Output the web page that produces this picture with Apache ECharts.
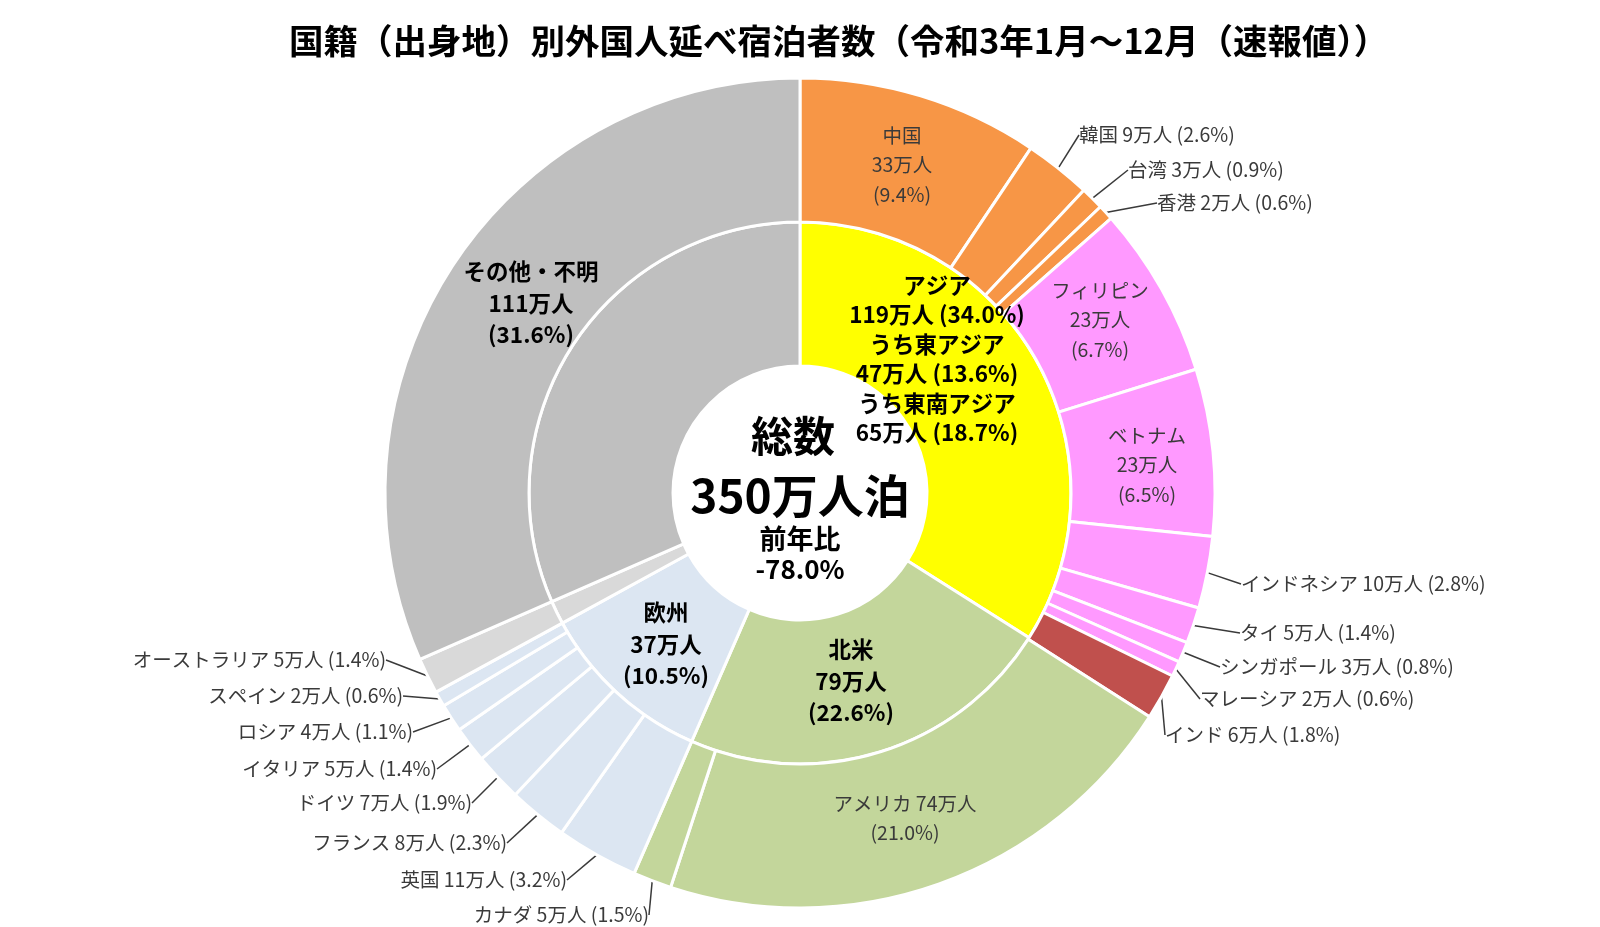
<!DOCTYPE html>
<html><head><meta charset="utf-8">
<script src="https://cdn.jsdelivr.net/npm/echarts@6/dist/echarts.min.js"></script>
<style>html,body{margin:0;padding:0;background:#fff}#c{width:1600px;height:927px}</style>
</head><body><div id="c"></div>
<script>
const FONT = '"Noto Sans CJK JP", "Noto Sans", sans-serif';

// ---- data ----
const titleText = '国籍（出身地）別外国人延べ宿泊者数（令和3年1月～12月（速報値））';
const totalMan = 350;
const yoyPct = -78.0;

const regionNames = ['アジア', '北米', '欧州', 'オセアニア', 'その他・不明'];
const regionMan   = [119, 79, 37, 5, 111];
const regionPct   = [34.0, 22.6, 10.5, 1.4, 31.6];
const regionGroup = ['asia', 'na', 'eu', 'oc', 'other'];

const subNames = ['うち東アジア', 'うち東南アジア'];
const subMan   = [47, 65];
const subPct   = [13.6, 18.7];

const countryNames = ['中国', '韓国', '台湾', '香港', 'フィリピン', 'ベトナム', 'インドネシア', 'タイ', 'シンガポール', 'マレーシア', 'インド', 'アメリカ', 'カナダ', '英国', 'フランス', 'ドイツ', 'イタリア', 'ロシア', 'スペイン', 'オーストラリア', 'その他・不明'];
const countryMan   = [33, 9, 3, 2, 23, 23, 10, 5, 3, 2, 6, 74, 5, 11, 8, 7, 5, 4, 2, 5, 111];
const countryPct   = [9.4, 2.6, 0.9, 0.6, 6.7, 6.5, 2.8, 1.4, 0.8, 0.6, 1.8, 21.0, 1.5, 3.2, 2.3, 1.9, 1.4, 1.1, 0.6, 1.4, 31.6];
const countryGroup = ['east', 'east', 'east', 'east', 'se', 'se', 'se', 'se', 'se', 'se', 'india', 'na', 'na', 'eu', 'eu', 'eu', 'eu', 'eu', 'eu', 'oc', 'other'];

// ---- styles ----
const groupColors = {
  asia: '#FFFF00', east: '#F79646', se: '#FF99FF', india: '#C0504D',
  na: '#C3D69B', eu: '#DCE6F2', oc: '#D9D9D9', other: '#BFBFBF'
};
const CX = 800, CY = 493, R0 = 127, R1 = 271, R2 = 415;
const LBL_PAD = 6;
const OUT_FS = 19.5;

// label anchor placement (text placement only)
const outsideLabelPos = {
  '韓国': [1079, 135, 'left'], '台湾': [1128, 170, 'left'], '香港': [1157, 203, 'left'],
  'インドネシア': [1241, 584, 'left'], 'タイ': [1240, 633, 'left'], 'シンガポール': [1220, 667, 'left'],
  'マレーシア': [1200, 699, 'left'], 'インド': [1165, 735, 'left'],
  'オーストラリア': [386, 660, 'right'], 'スペイン': [403, 696, 'right'], 'ロシア': [413, 732, 'right'],
  'イタリア': [437, 769, 'right'], 'ドイツ': [472, 803, 'right'], 'フランス': [507, 843, 'right'],
  '英国': [567, 880, 'right'], 'カナダ': [649, 915, 'right']
};
const insideLabelPos = {
  '中国': [902, 165], 'フィリピン': [1100, 320], 'ベトナム': [1147, 465],
  'アメリカ': [905, 818], 'その他・不明': [531, 303]
};
const regionLabelPos = { 'アジア': [937, 359], '北米': [851, 681], '欧州': [666, 644] };

const fmt1 = v => v.toFixed(1);

// ---- build data ----
const innerData = regionNames.map((n, i) => {
  let text = '';
  if (n === 'アジア') {
    text = `${n}\n${regionMan[i]}万人 (${fmt1(regionPct[i])}%)\n` +
      subNames.map((s, k) => `${s}\n${subMan[k]}万人 (${fmt1(subPct[k])}%)`).join('\n');
  } else {
    text = `${n}\n${regionMan[i]}万人\n(${fmt1(regionPct[i])}%)`;
  }
  const show = !!regionLabelPos[n];
  return {
    name: n, value: regionPct[i],
    itemStyle: { color: groupColors[regionGroup[i]] },
    label: { show: show, position: 'inside', formatter: text,
      fontFamily: FONT, fontWeight: 'bold', fontSize: 22.5, lineHeight: n === 'アジア' ? 29.5 : 31.5, color: '#000' },
    labelLine: { show: false }
  };
});

const outerData = countryNames.map((n, i) => {
  const pct = fmt1(countryPct[i]);
  const isOut = !!outsideLabelPos[n];
  let item = {
    name: n, value: countryPct[i],
    itemStyle: { color: groupColors[countryGroup[i]] }
  };
  if (isOut) {
    item.label = { show: true, position: 'outside', formatter: `${n} ${countryMan[i]}万人 (${pct}%)`,
      fontFamily: FONT, fontSize: OUT_FS, color: '#3a3a3a', padding: [0, LBL_PAD] };
    item.labelLine = { show: true, length: 12, length2: 0, lineStyle: { color: '#3a3a3a', width: 1.5 } };
  } else if (n === 'その他・不明') {
    item.label = { show: true, position: 'inside', formatter: `${n}\n${countryMan[i]}万人\n(${pct}%)`,
      fontFamily: FONT, fontWeight: 'bold', fontSize: 22.5, lineHeight: 31.5, color: '#000' };
    item.labelLine = { show: false };
  } else if (n === 'アメリカ') {
    item.label = { show: true, position: 'inside', formatter: `${n} ${countryMan[i]}万人\n(${pct}%)`,
      fontFamily: FONT, fontSize: OUT_FS, lineHeight: 29.5, color: '#3a3a3a' };
    item.labelLine = { show: false };
  } else {
    item.label = { show: true, position: 'inside', formatter: `${n}\n${countryMan[i]}万人\n(${pct}%)`,
      fontFamily: FONT, fontSize: OUT_FS, lineHeight: 29.5, color: '#3a3a3a' };
    item.labelLine = { show: false };
  }
  return item;
});

const chart = echarts.init(document.getElementById('c'), null, { renderer: 'canvas' });
chart.setOption({
  backgroundColor: '#ffffff',
  animation: false,
  title: {
    text: titleText, left: 289, top: 24, padding: 0,
    textStyle: { fontFamily: FONT, fontWeight: 'bold', fontSize: 34.5, color: '#000' }
  },
  series: [
    {
      type: 'pie', center: [CX, CY], radius: [R0, R1], startAngle: 90, clockwise: true,
      avoidLabelOverlap: false, silent: true,
      itemStyle: { borderColor: '#fff', borderWidth: 3 },
      data: innerData,
      labelLayout: function (p) {
        const n = regionNames[p.dataIndex];
        const pos = regionLabelPos[n];
        if (!pos) return {};
        return { x: pos[0], y: pos[1], align: 'center', verticalAlign: 'middle' };
      }
    },
    {
      type: 'pie', center: [CX, CY], radius: [R1, R2], startAngle: 90, clockwise: true,
      avoidLabelOverlap: false, silent: true,
      itemStyle: { borderColor: '#fff', borderWidth: 3 },
      data: outerData,
      labelLayout: function (p) {
        const n = countryNames[p.dataIndex];
        const o = outsideLabelPos[n];
        if (o) {
          return { x: o[2] === 'left' ? o[0] - LBL_PAD : o[0] + LBL_PAD, y: o[1], align: o[2], verticalAlign: 'middle' };
        }
        const ip = insideLabelPos[n];
        if (ip) return { x: ip[0], y: ip[1], align: 'center', verticalAlign: 'middle' };
        return {};
      }
    }
  ],
  graphic: [
    { type: 'text', x: 793, y: 436, z: 100, style: { text: '総数', font: `bold 42px ${FONT}`, fill: '#000', align: 'center', verticalAlign: 'middle' } },
    { type: 'text', x: 800, y: 496, z: 100, style: { text: `${totalMan}万人泊`, font: `bold 46px ${FONT}`, fill: '#000', align: 'center', verticalAlign: 'middle' } },
    { type: 'text', x: 800, y: 539, z: 100, style: { text: '前年比', font: `bold 27px ${FONT}`, fill: '#000', align: 'center', verticalAlign: 'middle' } },
    { type: 'text', x: 800, y: 569, z: 100, style: { text: `${fmt1(yoyPct)}%`, font: `bold 26px ${FONT}`, fill: '#000', align: 'center', verticalAlign: 'middle' } }
  ]
});
</script>
</body></html>
